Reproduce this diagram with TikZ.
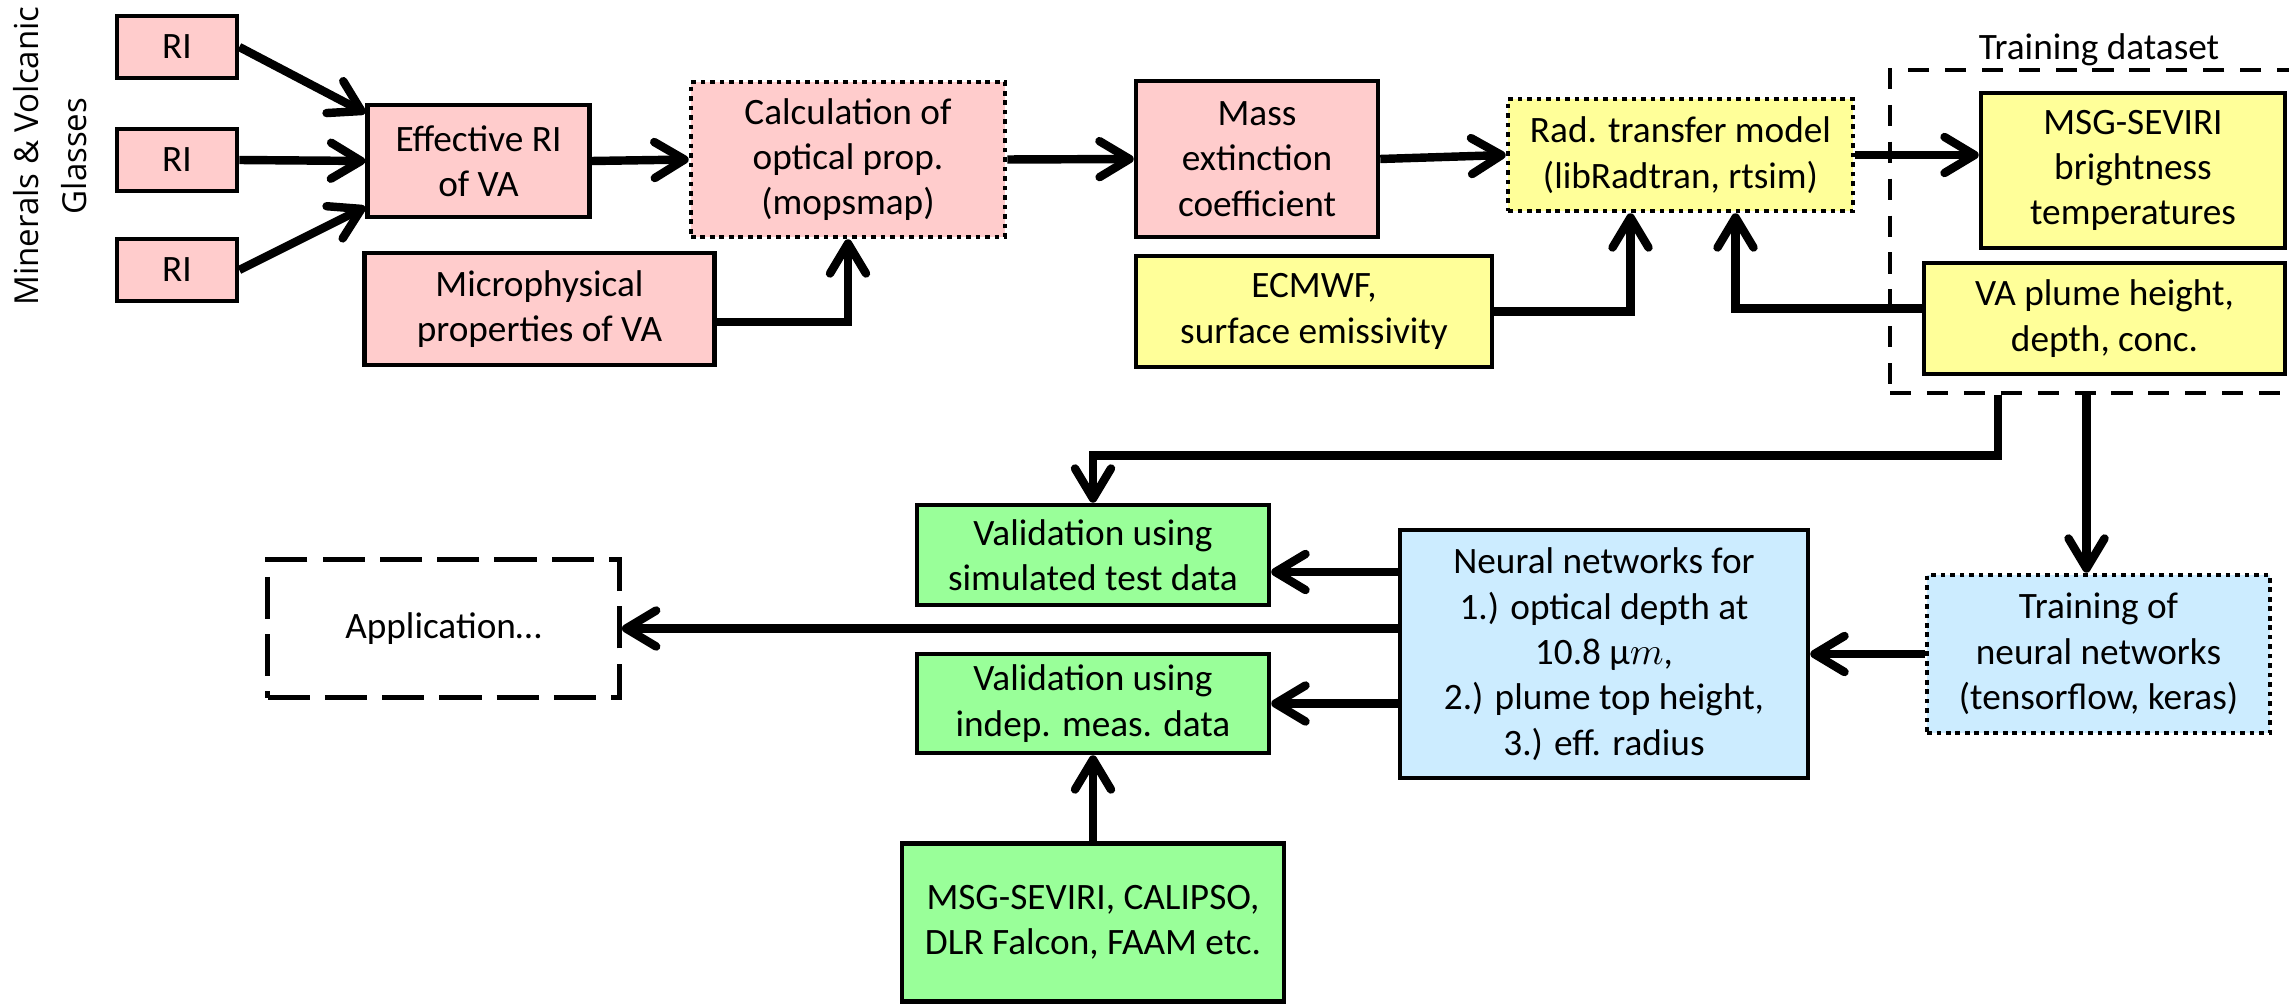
\documentclass[tikz,border=0pt]{standalone}
\usepackage{fontspec}
\setmainfont{Carlito}
\newfontfamily\sidefont{Open Sans}
\usepackage{tikz}
\usetikzlibrary{arrows.meta}

\definecolor{boxpink}{HTML}{FFCCCC}
\definecolor{boxyellow}{HTML}{FFFF99}
\definecolor{boxgreen}{HTML}{99FF99}
\definecolor{boxblue}{HTML}{CCECFF}
\newcommand{\boxfont}{\fontsize{10.6}{12.9}\selectfont}

\begin{document}
\begin{tikzpicture}[
    box/.style={draw=black, line width=1.3pt, align=center, inner sep=1pt, font=\boxfont},
    dotbox/.style={box, dash pattern=on 1.3pt off 1.4pt},
    conn/.style={line width=2.4pt, -{Straight Barb[length=3mm, width=3.6mm, round]}},
]
        \useasboundingbox (0, 0) rectangle (22.89, -10.05);

        % Refractive index inputs
        \node[font=\sidefont\fontsize{9.4}{13.5}\selectfont, rotate=90, align=center] (minerals) at (0.50, -1.56) {Minerals \& Volcanic\\Glasses};
        \node[box, fill=boxpink, minimum width=1.2cm, minimum height=0.62cm] (ri1) at (1.77, -0.47) {RI};
        \node[box, fill=boxpink, minimum width=1.2cm, minimum height=0.62cm] (ri2) at (1.77, -1.60) {RI};
        \node[box, fill=boxpink, minimum width=1.2cm, minimum height=0.62cm] (ri3) at (1.77, -2.70) {RI};

        % Optical properties chain
        \node[box, fill=boxpink, minimum width=2.22cm, minimum height=1.12cm] (eff) at (4.785, -1.61) {Effective RI\\of VA};
        \node[dotbox, fill=boxpink, minimum width=3.14cm, minimum height=1.55cm] (calc) at (8.48, -1.595) {Calculation of\\optical prop.\\(mopsmap)};
        \node[box, fill=boxpink, minimum width=3.5cm, minimum height=1.12cm] (micro) at (5.395, -3.09) {Microphysical\\properties of VA};
        \node[box, fill=boxpink, minimum width=2.42cm, minimum height=1.56cm] (mass) at (12.57, -1.59) {Mass\\extinction\\coefficient};
        \node[box, fill=boxyellow, minimum width=3.56cm, minimum height=1.11cm] (ecmwf) at (13.14, -3.115) {ECMWF,\\surface emissivity};
        \node[dotbox, fill=boxyellow, minimum width=3.45cm, minimum height=1.12cm] (rad) at (16.805, -1.55) {Rad. transfer model\\(libRadtran, rtsim)};

        % Training dataset
        \node[draw, line width=1.4pt, dash pattern=on 6pt off 4.5pt, minimum width=4.3cm, minimum height=3.23cm] (dataset) at (21.05, -2.315) {};
        \node[font=\boxfont] (dslabel) at (20.99, -0.50) {Training dataset};
        \node[box, fill=boxyellow, minimum width=3.04cm, minimum height=1.55cm] (msg) at (21.33, -1.705) {MSG-SEVIRI\\brightness\\temperatures};
        \node[box, fill=boxyellow, minimum width=3.61cm, minimum height=1.11cm] (plume) at (21.045, -3.185) {VA plume height,\\depth, conc.};

        % Networks and validation
        \node[dotbox, fill=boxblue, minimum width=3.43cm, minimum height=1.58cm] (train) at (20.985, -6.54) {Training of\\neural networks\\(tensorflow, keras)};
        \node[box, fill=boxblue, minimum width=4.08cm, minimum height=2.48cm] (nn) at (16.04, -6.54) {Neural networks for\\1.) optical depth at\\10.8 µ$m$,\\2.) plume top height,\\3.) eff. radius};
        \node[box, fill=boxgreen, minimum width=3.52cm, minimum height=1.0cm] (valsim) at (10.93, -5.55) {Validation using\\simulated test data};
        \node[box, fill=boxgreen, minimum width=3.52cm, minimum height=0.99cm] (valindep) at (10.93, -7.035) {Validation using\\indep. meas. data};
        \node[box, fill=boxgreen, minimum width=3.82cm, minimum height=1.58cm] (calipso) at (10.93, -9.225) {MSG-SEVIRI, CALIPSO,\\DLR Falcon, FAAM etc.};
        \node[box, line width=1.4pt, dash pattern=on 12pt off 4.3pt, minimum width=3.52cm, minimum height=1.38cm] (app) at (4.435, -6.285) {Application…};

        % Arrows
        \draw[conn] (ri1.east) -- ([yshift=4.8mm]eff.west);
        \draw[conn] (ri2.east) -- (eff.west);
        \draw[conn] (ri3.east) -- ([yshift=-4.6mm]eff.west);
        \draw[conn] (eff.east) -- (calc.west);
        \draw[conn] ([yshift=-1.3mm]micro.east) -| (calc.south);
        \draw[conn] (calc.east) -- (mass.west);
        \draw[conn] (mass.east) -- (rad.west);
        \draw[conn] (ecmwf.east) -| ([xshift=-5mm]rad.south);
        \draw[conn] ([yshift=1mm]plume.west) -| ([xshift=5.5mm]rad.south);
        \draw[conn] (rad.east) -- (rad.east -| msg.west);

        \coordinate (trainin) at ([xshift=-1.2mm]train.north);
        \coordinate (simin) at ([yshift=-1.7mm]valsim.east);
        \draw[conn] ([xshift=-10.7mm]dataset.south) -- ++(0, -0.6) -| (valsim.north);
        \draw[conn] (trainin |- dataset.south) -- (trainin);
        \draw[conn] (train.west) -- (nn.east);
        \draw[conn] (nn.west |- simin) -- (simin);
        \draw[conn] (nn.west |- app.east) -- (app.east);
        \draw[conn] (nn.west |- valindep.east) -- (valindep.east);
        \draw[conn] (calipso.north) -- (valindep.south);
\end{tikzpicture}
\end{document}
